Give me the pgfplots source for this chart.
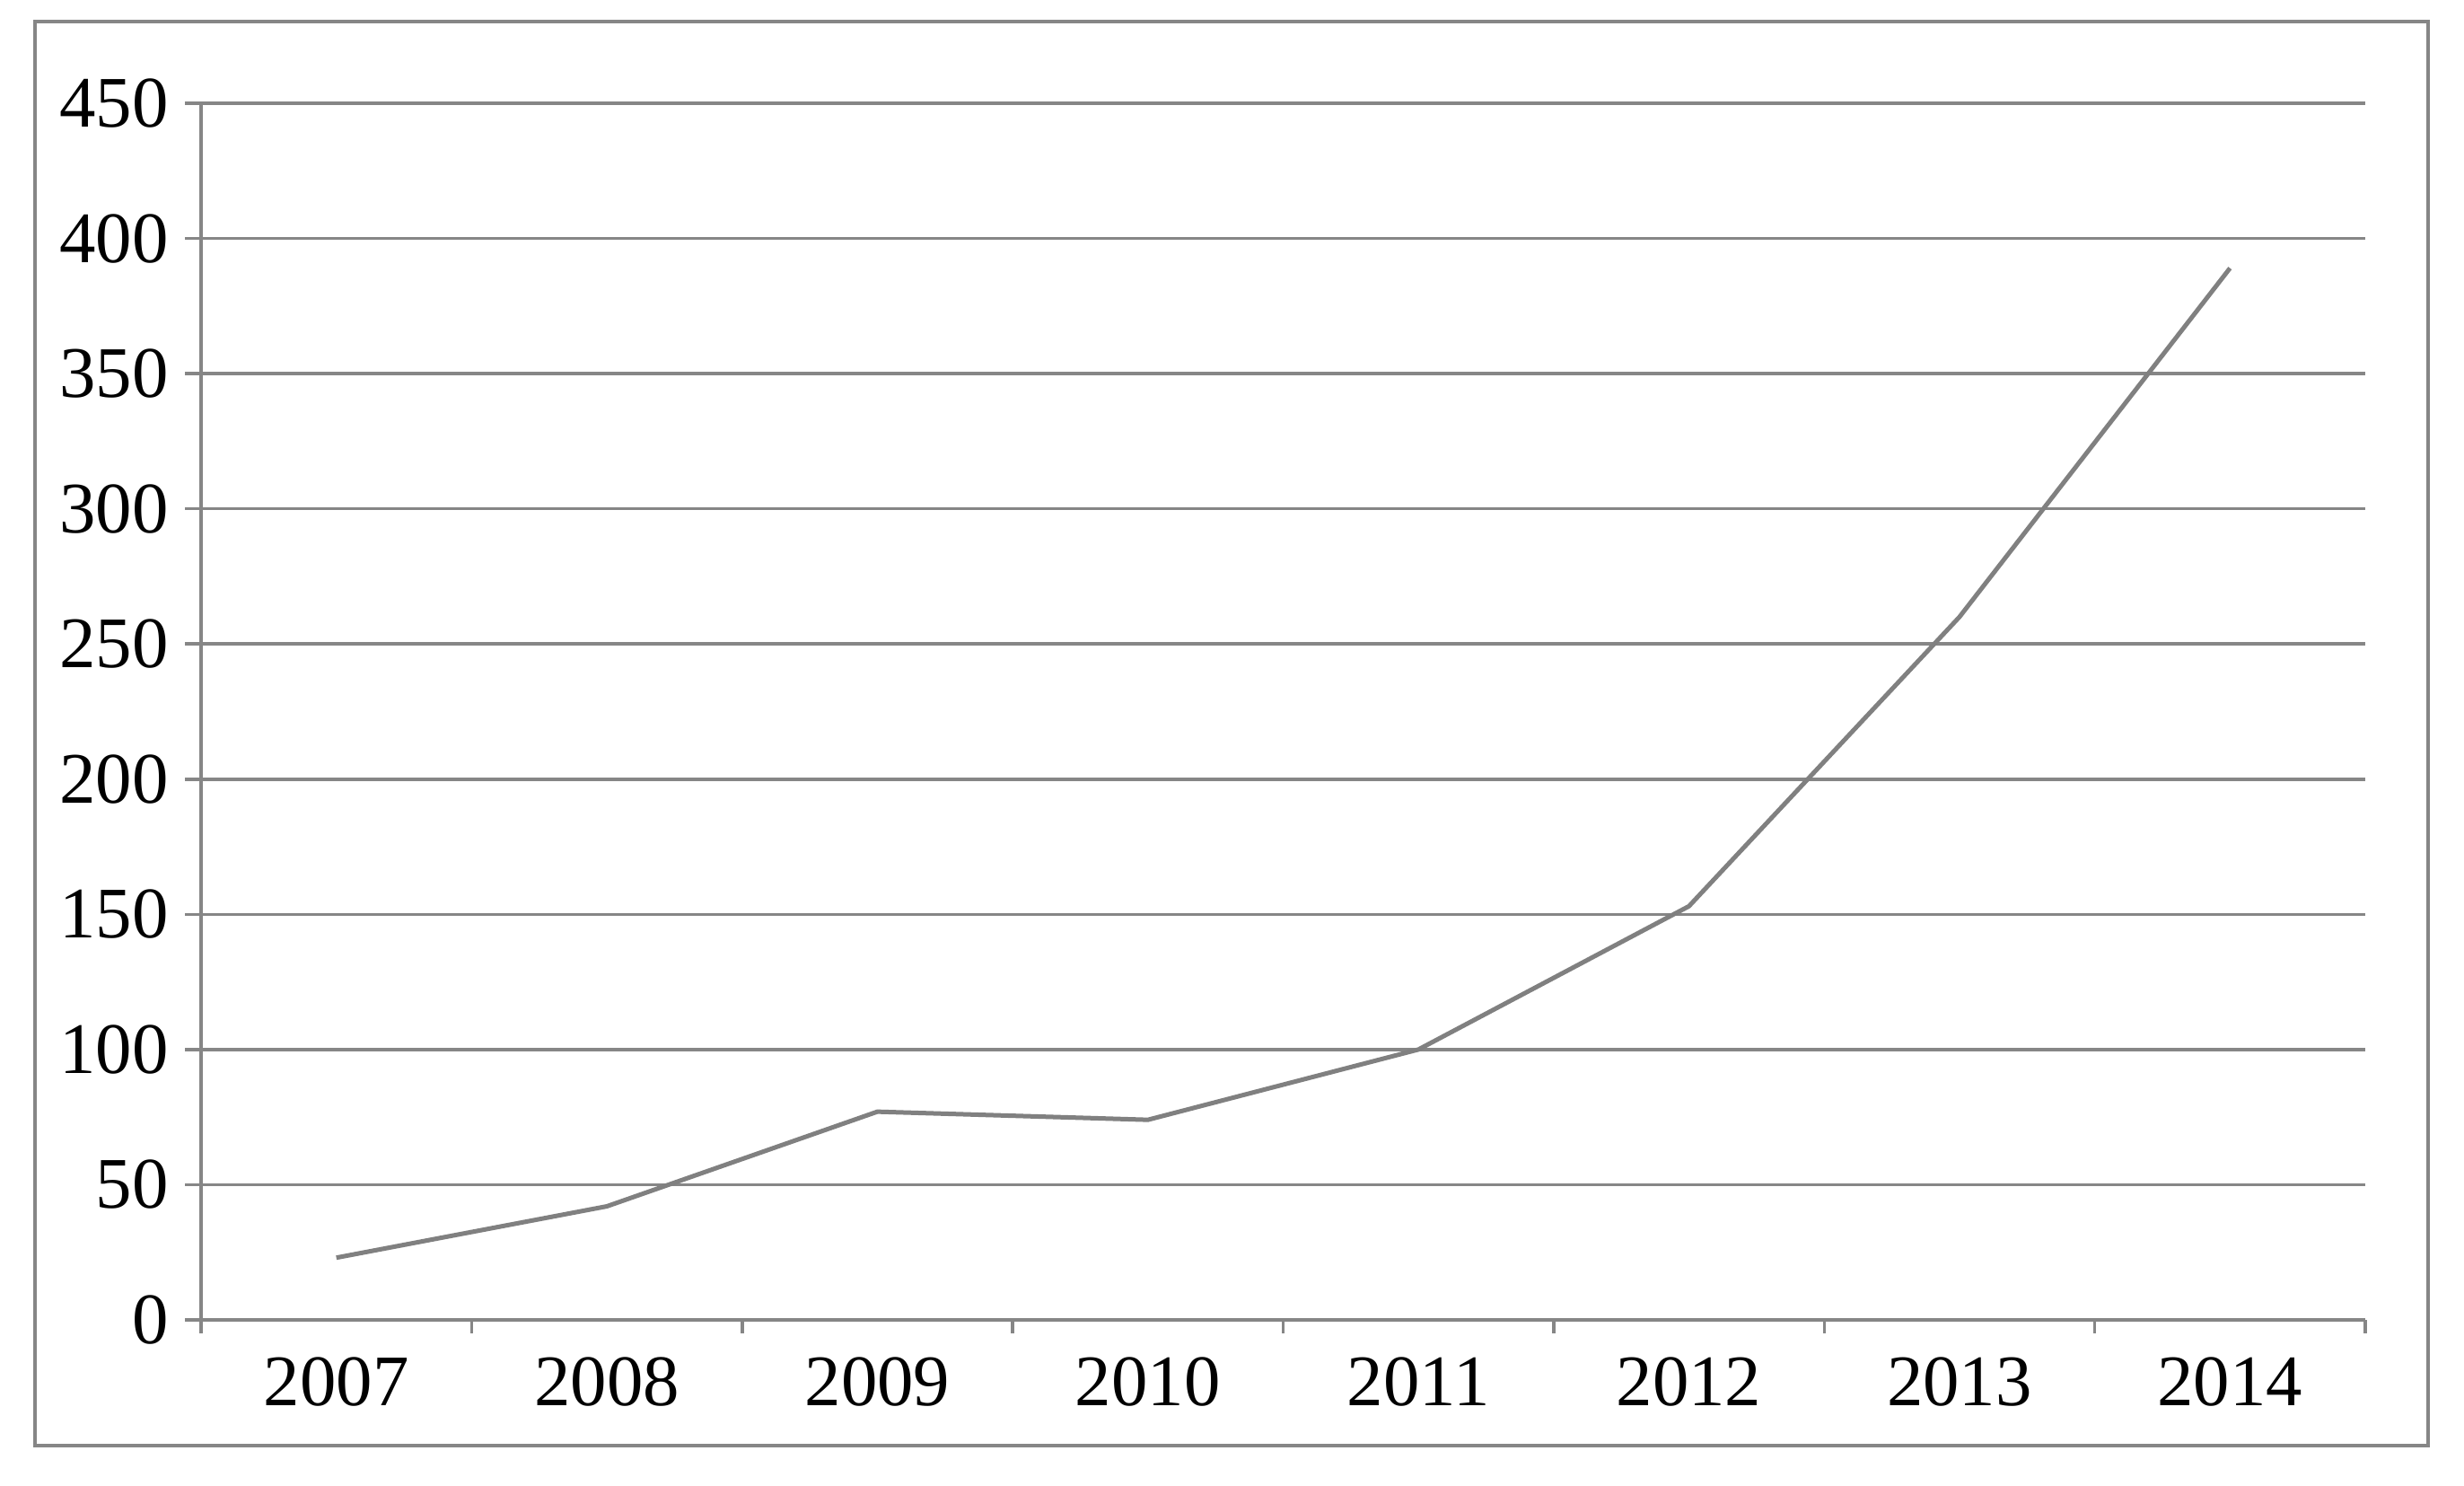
\documentclass[border=0pt]{standalone}
\usepackage{fontspec}
\setmainfont{Liberation Serif}
\usepackage{pgfplots}
\pgfplotsset{compat=1.18}
\definecolor{axgray}{RGB}{134,134,134}
\definecolor{linegray}{RGB}{128,128,128}

\begin{document}
\begin{tikzpicture}
\useasboundingbox (0,0) rectangle (274.5mm,165.5mm);
% outer chart frame
\draw[axgray, line width=0.4mm] (3.85mm,4.5mm) rectangle (270.5mm,163.05mm);
\begin{axis}[
  at={(22.4mm,18.5mm)}, anchor=south west,
  scale only axis, width=241.1mm, height=135.5mm,
  xmin=-0.5, xmax=7.5, ymin=0, ymax=450,
  xtick={0,...,7}, xticklabels={2007,2008,2009,2010,2011,2012,2013,2014},
  minor xtick={-0.5,0.5,...,7.5},
  major x tick style={draw=none},
  ytick={0,50,...,450},
  ymajorgrids, grid style={axgray, line width=0.35mm},
  axis x line*=bottom, axis y line*=left,
  axis line style={axgray, line width=0.35mm, -},
  tick style={axgray, line width=0.35mm},
  tick align=outside, major tick length=1.8mm, minor tick length=1.5mm,
  tick label style={font=\fontsize{23}{27}\selectfont, black},
  yticklabel style={xshift=-0.6mm},
  xticklabel style={yshift=-1.1mm},
  /pgf/number format/assume math mode=true,
]
\addplot[linegray, line width=0.5mm, mark=none] coordinates {
 (0,23)(1,42)(2,77)(3,74)(4,100)(5,153)(6,260)(7,389)
};
\end{axis}
\end{tikzpicture}
\end{document}
